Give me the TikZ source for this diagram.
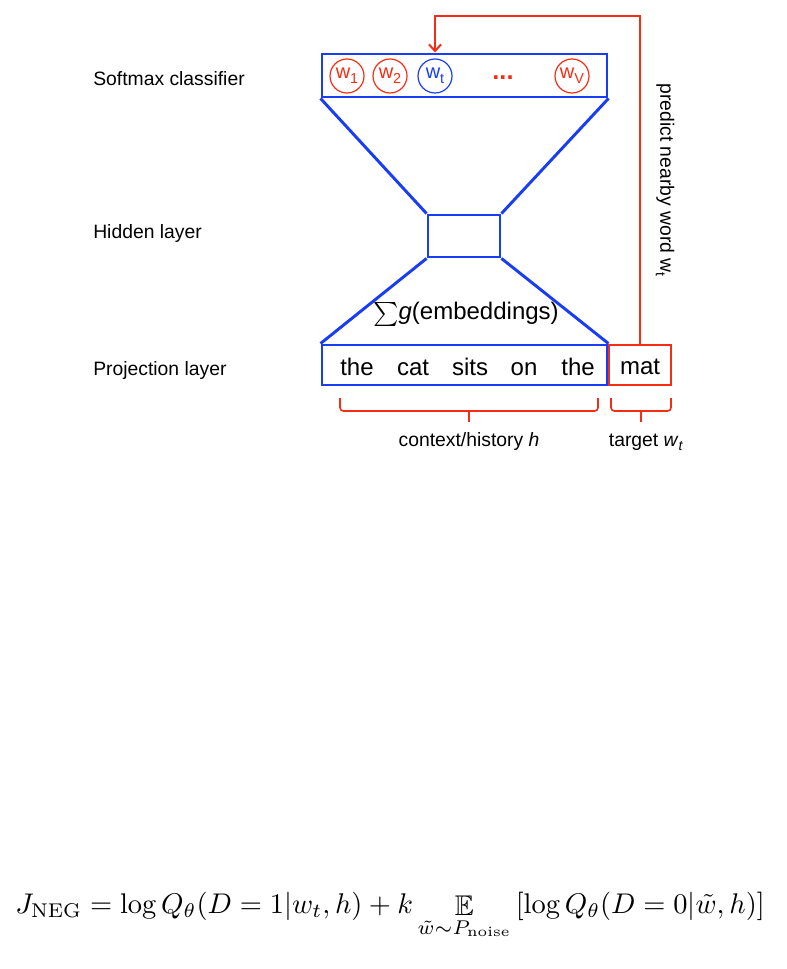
\documentclass[tikz,border=0pt]{standalone}
\usepackage{amsmath,amssymb}
\usepackage{fontspec}
\usepackage{tikz}
\usetikzlibrary{arrows.meta,positioning,calc}
\newfontfamily\arial{Liberation Sans}
\definecolor{netblue}{RGB}{25,60,245}
\definecolor{netred}{RGB}{245,45,20}
\newcommand{\sub}[1]{\raisebox{-0.45ex}{\scalebox{0.72}{#1}}}
\tikzset{
  layer/.style={draw=netblue, line width=2.2pt, inner sep=0pt, minimum height=#1},
  target/.style={draw=netred, line width=2.2pt, inner sep=0pt, minimum height=30pt, minimum width=46.5pt, text height=14.5pt, text depth=0pt, font=\arial\fontsize{18}{20}\selectfont},
  unit/.style={circle, draw=#1, text=#1, line width=0.9pt, minimum size=25.5pt, inner sep=0pt, font=\arial\fontsize{15}{17}\selectfont},
  funnel/.style={draw=netblue, line width=2.2pt},
  lbl/.style={anchor=base west, inner sep=0pt, font=\arial\fontsize{14.5}{17}\selectfont},
  word/.style={anchor=base, font=\arial\fontsize{18}{20}\selectfont},
  note/.style={anchor=base, inner sep=0pt, font=\arial\fontsize{14.5}{17}\selectfont},
  brace/.style={draw=netred, line width=1.2pt, rounded corners=2.5pt},
  feed/.style={-{Straight Barb[length=5pt,width=9pt,line width=1.5pt]}, draw=netred, line width=1.9pt},
}

\begin{document}
\begin{tikzpicture}[x=0.75pt, y=-0.75pt]
  \useasboundingbox (0,0) rectangle (787,969);
  % layers
  \node[layer=32.25pt, minimum width=213.75pt] (soft) at (464.5,75.5) {};
  \node[layer=31.5pt, minimum width=54pt] (hid) at (464,236) {};
  \node[layer=30pt, minimum width=213.75pt] (proj) at (464.5,365) {};
  \node[target] (mat) at (640,365) {mat};
  \draw[funnel] (soft.south west) -- (hid.north west);
  \draw[funnel] (soft.south east) -- (hid.north east);
  \draw[funnel] (hid.south west) -- (proj.north west);
  \draw[funnel] (hid.south east) -- (proj.north east);
  % softmax units
  \foreach \x/\i/\c in {347/1/netred,390/2/netred,435/t/netblue,572/V/netred} { \node[unit=\c] (w\i) at (\x,76) {w\sub{\i}}; }
  \node[anchor=base, text=netred, font=\arial\bfseries\fontsize{19}{21}\selectfont] (dots) at (503,80) {...};
  % context words
  \foreach \x/\w in {357/the,413/cat,470/sits,524/on,578/the} { \node[word] (c\x) at (\x,375) {\w}; }
  \node[word] (sum) at (466,320) {$\sum$\textit{g}(embeddings)};
  % layer names
  \node[lbl] (lsoft) at (93,86) {Softmax classifier};
  \node[lbl] (lhid) at (93,239) {Hidden layer};
  \node[lbl] (lproj) at (93,375) {Projection layer};
  % braces
  \draw[brace] (340,398) -- (340,411) -- (598,411) -- (598,398);
  \draw[brace] (469,411) -- (469,422);
  \draw[brace] (611,398) -- (611,411) -- (671,411) -- (671,398);
  \draw[brace] (641,411) -- (641,422);
  \node[note] (ctx) at (469,446) {context/history \textit{h}};
  \node[note] (tgt) at (646,446) {target \textit{w}\sub{\textit{t}}};
  % prediction loop
  \coordinate (turn) at (640,16);
  \draw[feed] (mat.north) -- (turn) -| (wt |- soft.north);
  \node[rotate=-90, font=\arial\fontsize{14.5}{17}\selectfont] (pred) at (665,180) {predict nearby word w\sub{t}};
  % objective
  \node[anchor=base] (loss) at (390,913) {\resizebox{562pt}{!}{$J_{\mathrm{NEG}} = \log Q_\theta(D=1|w_t,h) + k \mathop{\mathbb{E}}\limits_{\tilde{w}\sim P_{\mathrm{noise}}} \left[\log Q_\theta(D=0|\tilde{w},h)\right]$}};
\end{tikzpicture}
\end{document}
